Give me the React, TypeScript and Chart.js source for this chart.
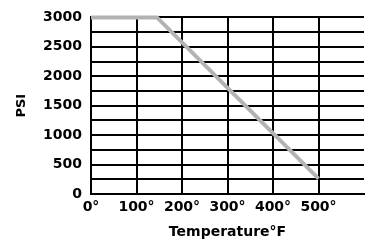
import React, { useEffect, useRef } from "react";
import { Chart, registerables } from "chart.js";

Chart.register(...registerables);

const temperatures = [0, 145, 500];
const psiValues = [3000, 3000, 260];
const xTicks = [0, 100, 200, 300, 400, 500, 600];
const xTickLabels = ["0°", "100°", "200°", "300°", "400°", "500°", ""];
const yLabelStep = 500;

export default function App() {
  const ref = useRef<HTMLCanvasElement>(null);

  useEffect(() => {
    if (!ref.current) return;
    const font = { family: "'DejaVu Sans', sans-serif", size: 14, weight: "bold" as const };
    const chart = new Chart(ref.current, {
      type: "line",
      data: {
        datasets: [
          {
            data: temperatures.map((t, i) => ({ x: t, y: psiValues[i] })),
            borderColor: "#b3b3b3",
            borderWidth: 4,
            pointRadius: 0,
            tension: 0,
            clip: false,
          },
        ],
      },
      options: {
        animation: false,
        responsive: false,
        layout: { padding: { top: 11, right: 5, left: 0, bottom: 0 } },
        plugins: { legend: { display: false }, tooltip: { enabled: false } },
        scales: {
          x: {
            type: "linear",
            min: 0,
            max: 600,
            afterBuildTicks: (scale: any) => {
              scale.ticks = xTicks.map((v) => ({ value: v }));
            },
            afterFit: (scale: any) => {
              scale.height = 50;
            },
            ticks: {
              autoSkip: false,
              maxRotation: 0,
              padding: 5,
              color: "#000",
              font,
              callback: (_v: any, i: number) => xTickLabels[i],
            },
            grid: {
              drawTicks: false,
              color: (ctx: any) => (ctx.tick && ctx.tick.value === 600 ? "rgba(0,0,0,0)" : "#000"),
              lineWidth: 2,
            },
            border: { color: "#000", width: 2 },
            title: {
              display: true,
              text: "Temperature°F",
              color: "#000",
              font,
              padding: { top: 0, bottom: 3 },
            },
          },
          y: {
            type: "linear",
            min: 0,
            max: 3000,
            ticks: {
              stepSize: 250,
              autoSkip: false,
              padding: 9,
              color: "#000",
              font,
              callback: (v: any) => (v % yLabelStep === 0 ? String(v) : ""),
            },
            afterFit: (scale: any) => {
              scale.width = 91;
            },
            grid: { drawTicks: false, color: "#000", lineWidth: 2 },
            border: { color: "#000", width: 2 },
            title: {
              display: true,
              text: "PSI",
              color: "#000",
              font: { ...font, size: 13 },
              padding: { top: 14, bottom: 0 },
            },
          },
        },
      },
    });
    return () => chart.destroy();
  }, []);

  return (
    <div style={{ position: "fixed", left: 0, top: 0, width: 369, height: 244, background: "#fff" }}>
      <canvas ref={ref} width={369} height={244} style={{ width: 369, height: 244, display: "block" }} />
    </div>
  );
}
